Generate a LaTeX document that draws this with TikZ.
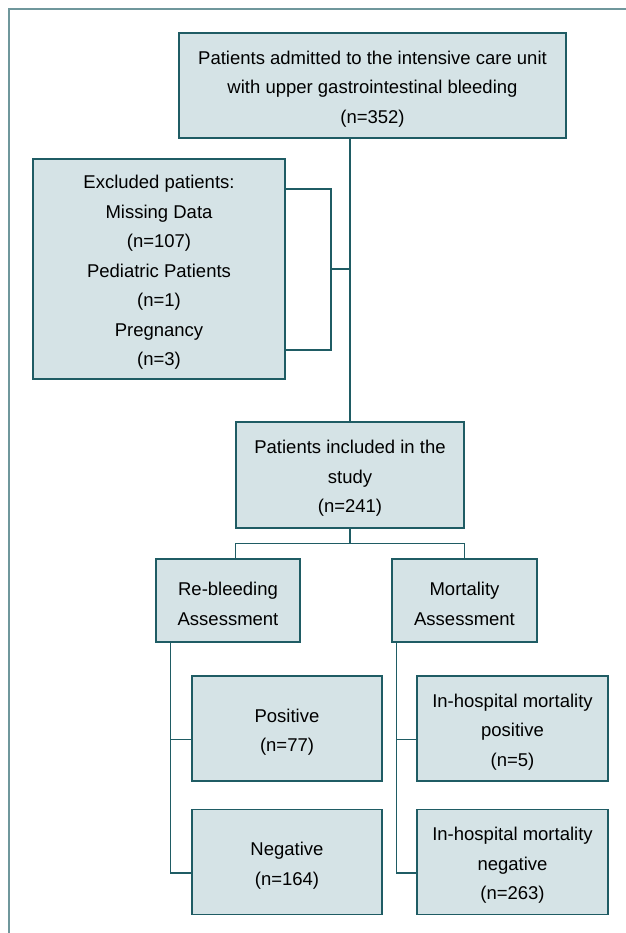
\documentclass[tikz,border=0pt]{standalone}
\usepackage{fontspec}
\setmainfont{Liberation Sans}
\usetikzlibrary{calc}
\definecolor{boxfill}{HTML}{D5E3E6}
\definecolor{boxline}{HTML}{1F5C64}
\definecolor{framecol}{HTML}{6F979C}
\newcommand\tstrut{\rule{0pt}{20.5pt}}
\tikzset{
  fbox/.style={draw=boxline, fill=boxfill, line width=1.4pt, align=center,
    inner sep=0pt, font=\fontsize{18.5}{29.5}\selectfont},
  conn/.style={draw=boxline, line width=1.4pt},
}
\begin{document}
\begin{tikzpicture}[x=1pt,y=-1pt]
\useasboundingbox (0,0) rectangle (625,933);
\draw[framecol, line width=1.6pt] (9,940) -- (9,9) -- (630,9);

\node[fbox, minimum width=387pt, minimum height=105pt] (top) at (372.5,85.5)
  {\tstrut Patients admitted to the intensive care unit\\with upper gastrointestinal bleeding\\(n=352)};
\node[fbox, minimum width=252pt, minimum height=220pt] (ex) at (159,269)
  {\tstrut Excluded patients:\\Missing Data\\(n=107)\\Pediatric Patients\\(n=1)\\Pregnancy\\(n=3)};
\node[fbox, minimum width=228pt, minimum height=106pt] (inc) at (350,475)
  {\tstrut Patients included in the\\study\\(n=241)};
\node[fbox, minimum width=144pt, minimum height=83pt] (rb) at (228,600.5)
  {\tstrut Re-bleeding\\Assessment};
\node[fbox, minimum width=145pt, minimum height=83pt] (mo) at (464.5,600.5)
  {\tstrut Mortality\\Assessment};
\node[fbox, minimum width=190pt, minimum height=105pt] (pos) at (287,728.5)
  {\tstrut Positive\\(n=77)};
\node[fbox, minimum width=190pt, minimum height=105pt] (neg) at (287,862)
  {\tstrut Negative\\(n=164)};
\node[fbox, minimum width=191pt, minimum height=105pt] (ipos) at (512.5,728.5)
  {\tstrut In-hospital mortality\\positive\\(n=5)};
\node[fbox, minimum width=191pt, minimum height=105pt] (ineg) at (512.5,862)
  {\tstrut In-hospital mortality\\negative\\(n=263)};

% main trunk
\draw[conn] (top.south -| inc.north) -- (inc.north);
% exclusion bracket
\coordinate (b1) at (331,189);
\coordinate (b2) at (331,350);
\coordinate (bm) at (331,269);
\draw[conn] (ex.east |- b1) -- (b1) -- (b2) -- (ex.east |- b2);
\draw[conn] (bm) -- (bm -| inc.north);
% split to assessments
\coordinate (j1) at ($(inc.south)+(0,15)$);
\draw[conn] (inc.south) -- (j1);
\draw[conn] (rb.north -| inc.west) |- (j1) -| (mo.north -| inc.east);
% re-bleeding branches
\coordinate (rv) at ($(rb.south west)+(15,0)$);
\coordinate (pb) at ($(pos.west)+(0,11)$);
\coordinate (nb) at ($(neg.west)+(0,11)$);
\draw[conn] (rv) |- (nb);
\draw[conn] (pb) -- (pb -| rv);
% mortality branches
\coordinate (mv) at ($(mo.south west)+(5,0)$);
\coordinate (ipb) at ($(ipos.west)+(0,11)$);
\coordinate (inb) at ($(ineg.west)+(0,11)$);
\draw[conn] (mv) |- (inb);
\draw[conn] (ipb) -- (ipb -| mv);
\end{tikzpicture}
\end{document}
